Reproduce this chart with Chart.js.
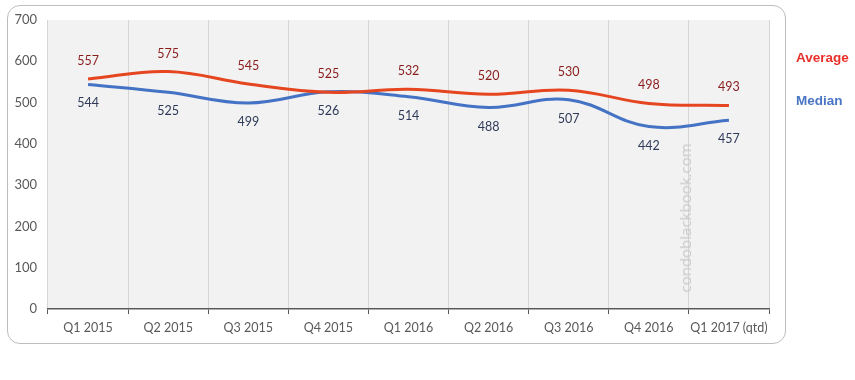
<!DOCTYPE html>
<html><head><meta charset="utf-8">
<script src="https://cdn.jsdelivr.net/npm/chart.js@4"></script>
<style>
html,body{margin:0;padding:0;background:#fff;width:855px;height:380px;overflow:hidden;}
#box{position:absolute;left:7px;top:5px;width:777px;height:337px;border:1px solid #bdbdbd;border-radius:13px;}
#wrap{position:absolute;left:0;top:0;width:855px;height:380px;}
.leg{position:absolute;font-family:"Liberation Sans",Arial,sans-serif;font-weight:bold;font-size:13.5px;}
#wm{position:absolute;left:685px;top:218px;transform:translate(-50%,-50%) rotate(-90deg);font-family:"Open Sans",sans-serif;font-size:15px;color:#c8c8c8;white-space:nowrap;}
</style></head><body>
<div id="box"></div>
<div id="wrap"><canvas id="c" width="855" height="380"></canvas></div>
<div class="leg" style="left:796px;top:50px;color:#e8302a;">Average</div>
<div class="leg" style="left:796px;top:93px;color:#4a74c4;">Median</div>
<div id="wm">condoblackbook.com</div>
<script>
const categories = ["Q1 2015","Q2 2015","Q3 2015","Q4 2015","Q1 2016","Q2 2016","Q3 2016","Q4 2016","Q1 2017 (qtd)"];
const averageValues = [557,575,545,525,532,520,530,498,493];
const medianValues = [544,525,499,526,514,488,507,442,457];
const yTicks = [0,100,200,300,400,500,600,700];

const bgPlugin = {
  id:'bg',
  beforeDraw(chart){
    const {ctx, chartArea:a} = chart;
    ctx.save(); ctx.fillStyle='#f2f2f2';
    ctx.fillRect(a.left,a.top,a.right-a.left,a.bottom-a.top);
    ctx.restore();
  }
};
const labelPlugin = {
  id:'lbl',
  afterDatasetsDraw(chart){
    const ctx = chart.ctx;
    ctx.save();
    ctx.font = '12.5px Lato, sans-serif';
    ctx.textAlign='center'; ctx.textBaseline='middle';
    chart.data.datasets.forEach((ds,i)=>{
      const meta = chart.getDatasetMeta(i);
      meta.data.forEach((pt,j)=>{
        ctx.fillStyle = ds.labelColor;
        ctx.fillText(String(ds.data[j]), pt.x, pt.y + ds.labelOffset);
      });
    });
    ctx.restore();
  }
};

new Chart(document.getElementById('c'), {
  type:'line',
  data:{
    labels:categories,
    datasets:[
      {label:'Average',data:averageValues,borderColor:'#e5461f',borderWidth:3,tension:0.4,pointRadius:0,fill:false,labelColor:'#8a1c1c',labelOffset:-18},
      {label:'Median',data:medianValues,borderColor:'#4472c4',borderWidth:3,tension:0.4,pointRadius:0,fill:false,labelColor:'#2e3a58',labelOffset:19}
    ]
  },
  options:{
    responsive:false,animation:false,
    layout:{padding:{top:20,right:86,left:0,bottom:0}},
    plugins:{legend:{display:false},tooltip:{enabled:false}},
    scales:{
      x:{
        offset:true,
        grid:{offset:true,color:'#d6d6d6',tickColor:'#5a5a5a',tickLength:5,lineWidth:1},
        border:{display:true,color:'#5a5a5a',width:1.5},
        ticks:{color:'#595959',font:{family:'Lato',size:12.5},padding:6,maxRotation:0,autoSkip:false},
        afterFit(s){ s.height = 71; }
      },
      y:{
        min:0,max:700,
        afterBuildTicks(s){ s.ticks = yTicks.map(v=>({value:v})); },
        grid:{display:false,drawTicks:false},
        border:{display:false},
        ticks:{color:'#595959',font:{family:'Lato',size:13},padding:11},
        afterFit(s){ s.width = 48; }
      }
    }
  },
  plugins:[bgPlugin,labelPlugin]
});
</script>
</body></html>
